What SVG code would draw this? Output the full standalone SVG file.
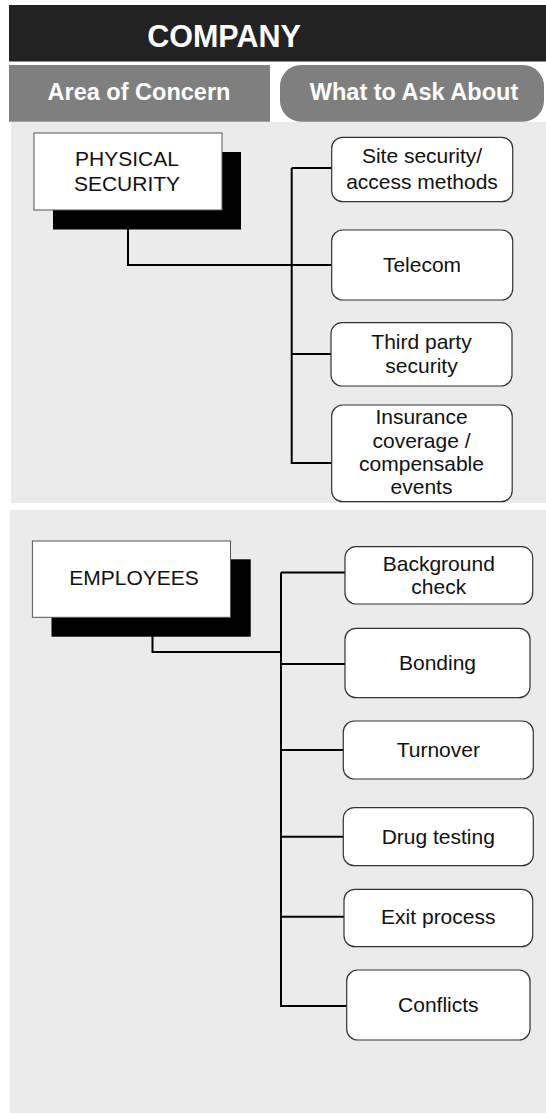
<svg xmlns="http://www.w3.org/2000/svg" width="546" height="1115" viewBox="0 0 546 1115">
<style>
.panel{fill:#ebebeb}
.hdr{fill:#7f7f7f}
.htxt{font-family:"Liberation Sans",Arial,sans-serif;font-weight:bold;fill:#fff;text-anchor:middle}
.main{fill:#fff;stroke:#555;stroke-width:1}
.shadow{fill:#000}
.box{fill:#fff;stroke:#333;stroke-width:1.2}
.t{font-family:"Liberation Sans",Arial,sans-serif;font-size:21px;fill:#111;text-anchor:middle}
.conn{fill:none;stroke:#000;stroke-width:2}
</style>
<rect width="546" height="1115" fill="#fff"/>
<g id="header">
<rect x="9" y="5" width="537" height="56.5" fill="#222"/>
<text class="htxt" x="224" y="47" font-size="30.5">COMPANY</text>
</g>
<g id="col-area">
<rect class="hdr" x="9" y="65" width="261" height="56.7"/>
<text class="htxt" x="139" y="100" font-size="23.5">Area of Concern</text>
</g>
<g id="col-ask">
<rect class="hdr" x="280" y="65" width="264" height="56.7" rx="21"/>
<text class="htxt" x="414" y="100" font-size="23.5">What to Ask About</text>
</g>
<rect class="panel" x="11" y="122" width="535" height="381"/>
<rect class="panel" x="10" y="510" width="536" height="603"/>
<g id="connectors">
<path class="conn" d="M128,210 V265 H331.7"/>
<path class="conn" d="M291.7,168 V463 H331.7"/>
<path class="conn" d="M291.7,168 H331.7"/>
<path class="conn" d="M291.7,354 H331"/>
<path class="conn" d="M152.5,617 V652 H281"/>
<path class="conn" d="M281,572.5 V1006 H346.7"/>
<path class="conn" d="M281,572.5 H345"/>
<path class="conn" d="M281,664 H345"/>
<path class="conn" d="M281,750 H343.3"/>
<path class="conn" d="M281,836.7 H343.3"/>
<path class="conn" d="M281,916.7 H344"/>
</g>
<g id="physical-security">
<rect class="shadow" x="53" y="152" width="188" height="77.5"/>
<rect class="main" x="34" y="133" width="188" height="77"/>
<text class="t" x="127" y="166">PHYSICAL</text>
<text class="t" x="127" y="190.5">SECURITY</text>
</g>
<g id="site-security">
<rect class="box" x="331.7" y="137.3" width="181" height="64.4" rx="11"/>
<text class="t" x="422" y="163.3">Site security/</text>
<text class="t" x="422" y="189.3">access methods</text>
</g>
<g id="telecom">
<rect class="box" x="331.7" y="230" width="181" height="70" rx="11"/>
<text class="t" x="422" y="271.7">Telecom</text>
</g>
<g id="third-party">
<rect class="box" x="331" y="322.7" width="181" height="63.3" rx="11"/>
<text class="t" x="421.5" y="349.3">Third party</text>
<text class="t" x="421.5" y="372.7">security</text>
</g>
<g id="insurance">
<rect class="box" x="331.7" y="405" width="180.5" height="96.7" rx="11"/>
<text class="t" x="421.5" y="424">Insurance</text>
<text class="t" x="421.5" y="447.7">coverage /</text>
<text class="t" x="421.5" y="471">compensable</text>
<text class="t" x="421.5" y="494.3">events</text>
</g>
<g id="employees">
<rect class="shadow" x="51.5" y="559.3" width="199.2" height="77.4"/>
<rect class="main" x="32.4" y="541" width="198.1" height="76.3"/>
<text class="t" x="134" y="585">EMPLOYEES</text>
</g>
<g id="background-check">
<rect class="box" x="345" y="546.7" width="187.7" height="57.3" rx="11"/>
<text class="t" x="438.8" y="570.7">Background</text>
<text class="t" x="438.8" y="594.3">check</text>
</g>
<g id="bonding">
<rect class="box" x="345" y="628.3" width="185" height="69.4" rx="11"/>
<text class="t" x="437.5" y="670">Bonding</text>
</g>
<g id="turnover">
<rect class="box" x="343.3" y="721" width="190" height="58" rx="11"/>
<text class="t" x="438.3" y="756.7">Turnover</text>
</g>
<g id="drug-testing">
<rect class="box" x="343.3" y="807.7" width="190" height="58" rx="11"/>
<text class="t" x="438.3" y="844">Drug testing</text>
</g>
<g id="exit-process">
<rect class="box" x="344" y="889.3" width="188.7" height="57.4" rx="11"/>
<text class="t" x="438.3" y="924.3">Exit process</text>
</g>
<g id="conflicts">
<rect class="box" x="346.7" y="970" width="183.3" height="70" rx="11"/>
<text class="t" x="438.3" y="1011.7">Conflicts</text>
</g>
</svg>
